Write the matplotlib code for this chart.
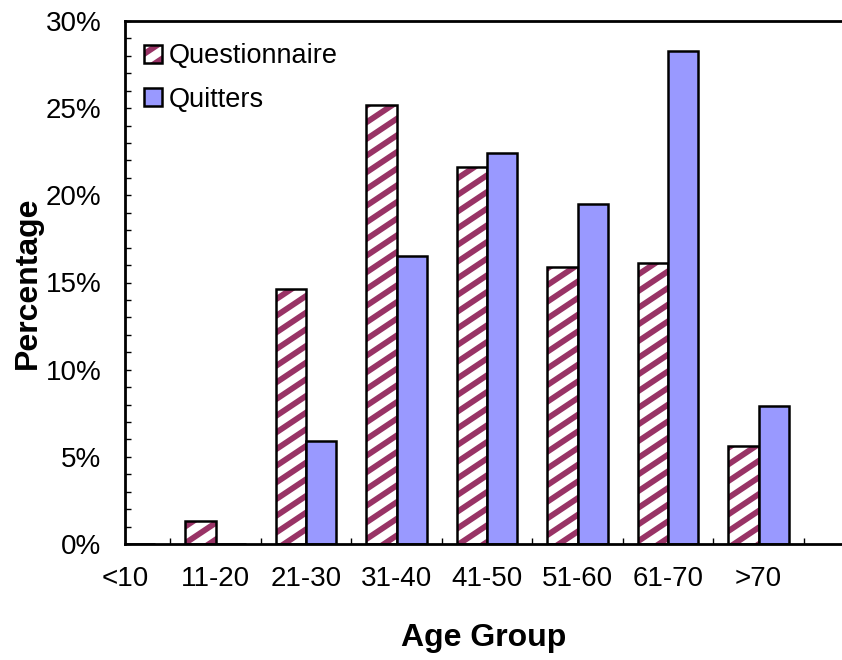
import warnings
import numpy as np
import matplotlib
matplotlib.use('Agg')
import matplotlib.pyplot as plt
from matplotlib import hatch as mhatch
from matplotlib.path import Path
from matplotlib.ticker import MultipleLocator, FixedLocator, PercentFormatter

warnings.filterwarnings('ignore')

age_groups = ['<10', '11-20', '21-30', '31-40', '41-50', '51-60', '61-70', '>70']
questionnaire = [0.0, 1.3, 14.6, 25.2, 21.6, 15.9, 16.1, 5.6]
quitters = [0.0, 0.0, 5.9, 16.5, 22.4, 19.5, 28.3, 7.9]

N_STRIPES = 6
RISE = 4


# shallower diagonal stripes than the built-in '/' hatch
class SlantHatch(mhatch.HatchPatternBase):
    def __init__(self, hatch, density):
        self.num_lines = 0
        self.num_vertices = 0
        if 's' in hatch:
            self.offsets = np.arange(-RISE, N_STRIPES + 1) / N_STRIPES
            self.num_lines = len(self.offsets)
            self.num_vertices = self.num_lines * 2

    def set_vertices_and_codes(self, vertices, codes):
        vertices[0::2, 0] = 0.0
        vertices[0::2, 1] = self.offsets
        vertices[1::2, 0] = 1.0
        vertices[1::2, 1] = self.offsets + RISE / N_STRIPES
        codes[0::2] = Path.MOVETO
        codes[1::2] = Path.LINETO


mhatch._hatch_types.append(SlantHatch)

plt.rcParams['font.family'] = ['Liberation Sans', 'DejaVu Sans']
plt.rcParams['hatch.linewidth'] = 4.2

fig = plt.figure(figsize=(8.42, 6.6), dpi=100)
ax = fig.add_axes([125 / 842, 116 / 660, 1 - 125 / 842, 523 / 660])

x = np.arange(len(age_groups))
w = 0.337

# hatch takes the edge colour, so draw the stripes and the black outline separately
q_fill = ax.bar(x - w / 2, questionnaire, w, color='white', edgecolor='#993366', linewidth=0,
                hatch='s')
q_edge = ax.bar(x - w / 2, questionnaire, w, fill=False, edgecolor='black', linewidth=1.8)
qt = ax.bar(x + w / 2, quitters, w, color='#9999FF', edgecolor='black', linewidth=1.8)

ax.set_xlim(0, 717 / 90.5)
ax.set_ylim(0, 30)

ax.set_xticks(x)
ax.set_xticklabels(age_groups)
ax.xaxis.set_minor_locator(FixedLocator(x + 0.5))
ax.tick_params(axis='x', which='major', length=0, pad=16, labelsize=20)
ax.tick_params(axis='x', which='minor', direction='in', length=4, width=1)

ax.yaxis.set_major_locator(MultipleLocator(5))
ax.yaxis.set_minor_locator(MultipleLocator(1))
ax.yaxis.set_major_formatter(PercentFormatter(decimals=0))
ax.tick_params(axis='y', which='both', direction='in', length=4, width=1, labelsize=20, pad=17)

for s in ['left', 'bottom', 'top']:
    ax.spines[s].set_linewidth(2)
ax.spines['right'].set_visible(False)

ax.set_xlabel('Age Group', fontsize=23, fontweight='bold', labelpad=22)
ax.set_ylabel('Percentage', fontsize=23, fontweight='bold', labelpad=2)

ax.legend([(q_fill[1], q_edge[1]), qt[2]], ['Questionnaire', 'Quitters'],
          loc='upper left', frameon=False, fontsize=19.5, handlelength=0.65, handleheight=0.65,
          handletextpad=0.25, labelspacing=0.65, borderaxespad=0.5, bbox_to_anchor=(-0.007, 1.004))

fig.savefig('out.png', dpi=100)
